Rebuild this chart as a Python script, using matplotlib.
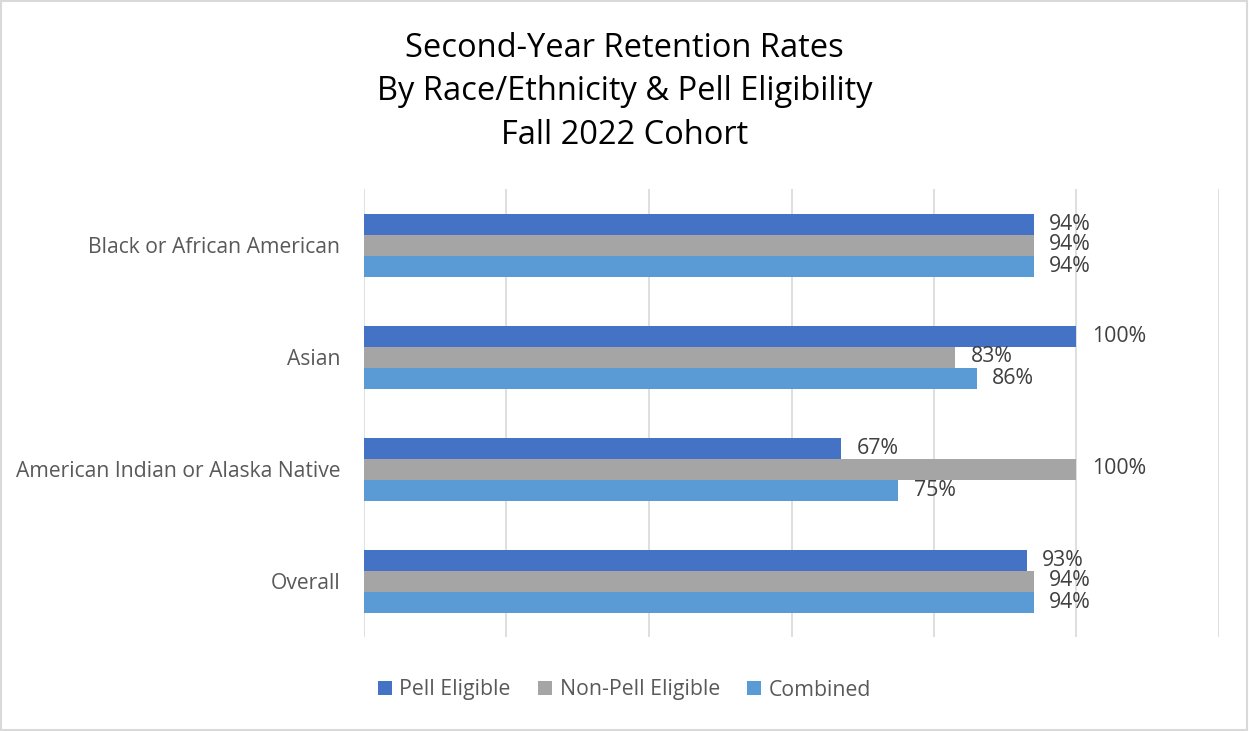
import numpy as np
import matplotlib.pyplot as plt
from matplotlib.patches import Rectangle

# Datos del gráfico
categorias = ['Black or African American', 'Asian',
              'American Indian or Alaska Native', 'Overall']
pell = [0.94, 1.00, 0.67, 0.93]
non_pell = [0.94, 0.83, 1.00, 0.94]
combinado = [0.94, 0.86, 0.75, 0.94]
series = ['Pell Eligible', 'Non-Pell Eligible', 'Combined']
colores = ['#4472C4', '#A5A5A5', '#5B9BD5']

plt.rcParams['font.family'] = ['Open Sans', 'DejaVu Sans']

fig = plt.figure(figsize=(12.49, 7.31), dpi=100)
ax = fig.add_axes([364 / 1249, 1 - 637 / 731, (1219 - 364) / 1249, 448 / 731])

# Categorías de arriba hacia abajo
y = np.arange(len(categorias))[::-1].astype(float)
alto = 0.1875
desp = [alto, 0, -alto]

for vals, nombre, col, d in zip([pell, non_pell, combinado], series, colores, desp):
    barras = ax.barh(y + d, vals, height=alto, color=col, label=nombre, zorder=3)
    ax.bar_label(barras, labels=[f'{v:.0%}' for v in vals], padding=11,
                 fontsize=15.3, color='#404040')

ax.set_xlim(0, 1.2)
ax.set_ylim(-0.5, 3.5)
ax.set_xticks(np.arange(0, 1.21, 0.2))
ax.set_xticklabels([])
ax.tick_params(axis='x', length=0)
ax.set_yticks(y)
ax.set_yticklabels(categorias, fontsize=15.2, color='#595959')
ax.tick_params(axis='y', length=0, pad=17)
ax.grid(axis='x', color='#D9D9D9', linewidth=1.2, zorder=0)
for s in ax.spines.values():
    s.set_visible(False)

fig.text(0.5, 1 - 32 / 731, 'Second-Year Retention Rates\nBy Race/Ethnicity & Pell Eligibility\nFall 2022 Cohort',
         ha='center', va='top', fontsize=23.5, color='#000000', linespacing=1.42)

handles, labels = ax.get_legend_handles_labels()
fig.legend(handles, labels, loc='center', bbox_to_anchor=(0.5, 1 - 690 / 731),
           ncol=3, frameon=False, fontsize=15.3, labelcolor='#595959',
           handlelength=0.65, handleheight=0.65, handletextpad=0.35, columnspacing=1.3)

fig.patches.append(Rectangle((0.001, 0.002), 0.997, 0.996, transform=fig.transFigure,
                             fill=False, edgecolor='#D9D9D9', linewidth=1.5))

plt.savefig('out.png', dpi=100)
